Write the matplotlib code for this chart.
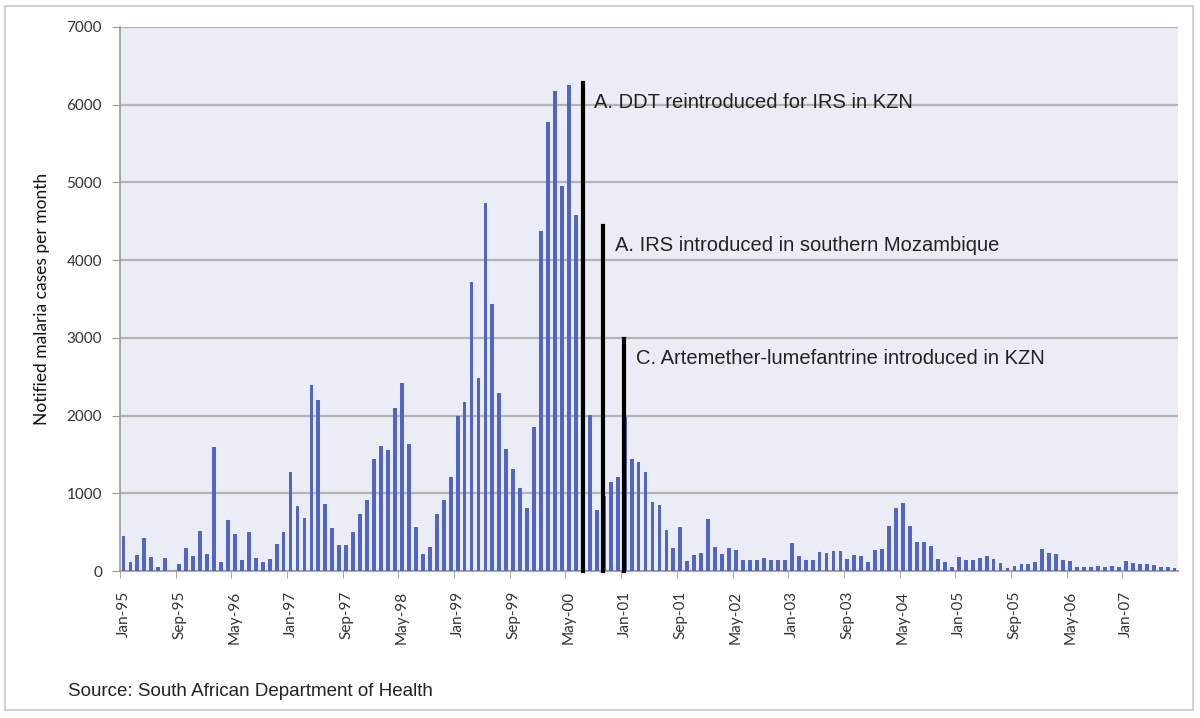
import numpy as np
import pandas as pd
from matplotlib import pyplot as plt
from matplotlib.patches import Rectangle

# notified malaria cases per month, KZN
cases_1995 = [445, 110, 210, 430, 180, 50, 170, 0, 95, 300, 190, 510]
cases_1996 = [220, 1600, 110, 660, 470, 140, 505, 170, 120, 150, 345, 505]
cases_1997 = [1280, 840, 680, 2390, 2200, 860, 560, 335, 335, 500, 730, 910]
cases_1998 = [1445, 1610, 1555, 2100, 2420, 1630, 570, 225, 310, 730, 910, 1215]
cases_1999 = [2000, 2175, 3725, 2480, 4730, 3430, 2295, 1565, 1315, 1070, 815, 1855]
cases_2000 = [4375, 5780, 6180, 4950, 6250, 4580, 3830, 2010, 780, 965, 1150, 1210]
cases_2001 = [1980, 1440, 1400, 1270, 885, 855, 530, 300, 565, 130, 200, 230]
cases_2002 = [675, 310, 225, 290, 265, 140, 140, 140, 170, 140, 140, 140]
cases_2003 = [360, 190, 138, 138, 240, 237, 254, 254, 151, 203, 190, 116]
cases_2004 = [267, 280, 582, 815, 871, 582, 375, 375, 319, 159, 116, 52]
cases_2005 = [181, 147, 147, 168, 195, 150, 105, 43, 69, 86, 86, 120]
cases_2006 = [283, 236, 219, 142, 129, 56, 56, 56, 69, 47, 69, 47]
cases_2007 = [133, 99, 86, 86, 77, 56, 56, 43]

cases = (cases_1995 + cases_1996 + cases_1997 + cases_1998 + cases_1999 + cases_2000
         + cases_2001 + cases_2002 + cases_2003 + cases_2004 + cases_2005 + cases_2006
         + cases_2007)

months = pd.date_range('1995-01-01', periods=len(cases), freq='MS').strftime('%b-%y').tolist()

tick_labels = ['Jan-95', 'Sep-95', 'May-96', 'Jan-97', 'Sep-97', 'May-98', 'Jan-99',
               'Sep-99', 'May-00', 'Jan-01', 'Sep-01', 'May-02', 'Jan-03', 'Sep-03',
               'May-04', 'Jan-05', 'Sep-05', 'May-06', 'Jan-07']

# interventions: month of the marker line, top of the line, label
event_months = ['Jul-00', 'Oct-00', 'Jan-01']
event_tops = [6280, 4440, 2980]
event_labels = ['A. DDT reintroduced for IRS in KZN',
                'A. IRS introduced in southern Mozambique',
                'C. Artemether-lumefantrine introduced in KZN']

plt.rcParams['font.family'] = ['Lato', 'DejaVu Sans']

fig = plt.figure(figsize=(12, 7.18), dpi=100)
ax = fig.add_axes([0.1, 0.2047, 0.8817, 0.7577])

x = np.arange(len(cases))
ax.set_facecolor('#EAEDF5')
ax.bar(x, cases, width=0.55, color='#5165C1', zorder=3)

ax.set_xlim(-0.5, len(cases) - 0.5)
ax.set_ylim(0, 7000)
ax.set_yticks(range(0, 7001, 1000))
ax.yaxis.grid(True, color='#B4B4B4', linewidth=1.6, zorder=0)

tick_pos = [months.index(m) for m in tick_labels]
ax.set_xticks(tick_pos)
ax.set_xticklabels(tick_labels, rotation=90, fontsize=11, color='#333333')
ax.set_xticks([p - 0.5 for p in tick_pos], minor=True)
ax.tick_params(axis='x', which='major', length=0, pad=14)
ax.tick_params(axis='x', which='minor', length=5, color='#9A9A9A')
ax.tick_params(axis='y', labelsize=11, labelcolor='#333333', length=6, color='#9A9A9A', pad=7)

for side in ['top', 'right']:
    ax.spines[side].set_visible(False)
for side in ['left', 'bottom']:
    ax.spines[side].set_color('#9A9A9A')
    ax.spines[side].set_linewidth(1.2)

ax.set_ylabel('Notified malaria cases per month', fontsize=12.5, color='#111111', labelpad=12)

for m, top, lab in zip(event_months, event_tops, event_labels):
    xe = months.index(m) - 0.05
    ax.plot([xe, xe], [0, top], color='black', linewidth=3, zorder=4, clip_on=False)
    ax.text(xe + 1.7, top - 250, lab, fontsize=14.5, family='Liberation Sans',
            color='#222222', va='center', ha='left', zorder=5)

# frame round the figure, as in the source document
fig.patches.append(Rectangle((5, 8), 1188, 704, transform=None, fill=False,
                             edgecolor='#C8C8C8', linewidth=1.2))

fig.text(68 / 1200, 1 - 692 / 718, 'Source: South African Department of Health',
         fontsize=13.5, family='Liberation Sans', color='#222222', va='center')

fig.savefig('out.png', dpi=100)
